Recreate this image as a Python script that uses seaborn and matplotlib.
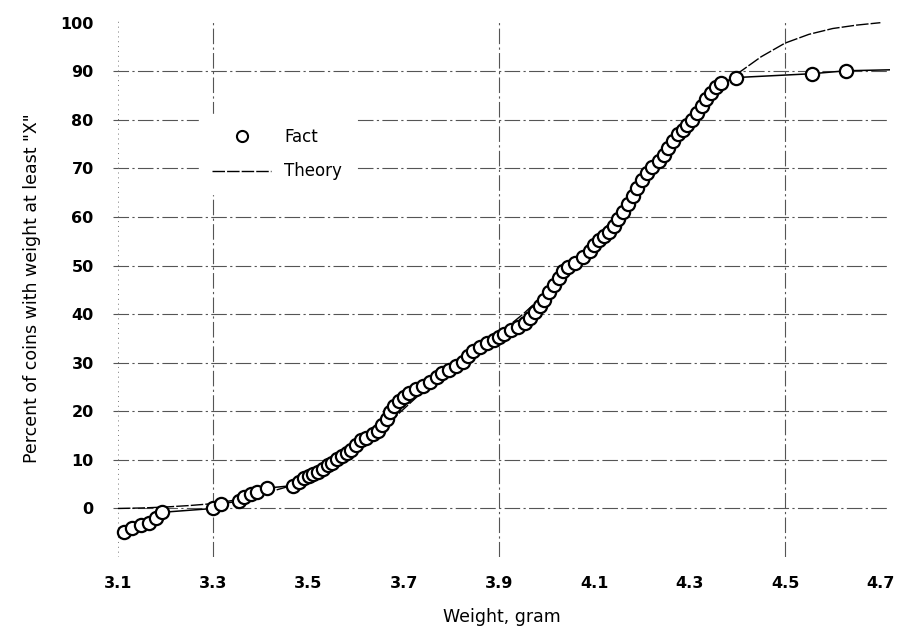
import matplotlib
matplotlib.use("Agg")
import matplotlib.pyplot as plt
from matplotlib.lines import Line2D
import seaborn as sns
import pandas as pd

# measured data (fact), last point only carries the line to the right edge
fact_x = [3.113, 3.129, 3.148, 3.165, 3.179, 3.192, 3.300, 3.317, 3.355, 3.365,
          3.380, 3.392, 3.413, 3.467, 3.480, 3.490, 3.500, 3.510, 3.520, 3.530,
          3.540, 3.550, 3.560, 3.570, 3.580, 3.590, 3.600, 3.610, 3.620, 3.635,
          3.645, 3.655, 3.665, 3.672, 3.680, 3.690, 3.700, 3.710, 3.725, 3.740,
          3.755, 3.770, 3.780, 3.795, 3.810, 3.825, 3.835, 3.845, 3.860, 3.875,
          3.890, 3.900, 3.910, 3.925, 3.940, 3.955, 3.965, 3.975, 3.985, 3.995,
          4.005, 4.015, 4.025, 4.035, 4.045, 4.060, 4.075, 4.090, 4.100, 4.110,
          4.120, 4.130, 4.140, 4.150, 4.160, 4.170, 4.180, 4.190, 4.200, 4.210,
          4.220, 4.235, 4.245, 4.255, 4.265, 4.275, 4.285, 4.295, 4.305, 4.315,
          4.325, 4.335, 4.345, 4.355, 4.365, 4.396, 4.557, 4.628, 4.720]
fact_y = [-4.9, -4.1, -3.5, -2.9, -1.9, -0.8, 0.0, 1.0, 1.5, 2.3,
          3.0, 3.4, 4.2, 4.7, 5.5, 6.2, 6.6, 7.0, 7.6, 8.2,
          8.9, 9.4, 10.1, 10.7, 11.4, 12.0, 13.1, 14.0, 14.6, 15.3,
          16.0, 17.2, 18.5, 19.8, 21.0, 22.1, 23.0, 23.8, 24.6, 25.2,
          26.0, 27.0, 27.8, 28.6, 29.3, 30.2, 31.4, 32.5, 33.3, 34.0,
          34.6, 35.2, 36.0, 36.8, 37.4, 38.2, 39.3, 40.4, 41.6, 43.0,
          44.5, 46.0, 47.5, 48.8, 49.8, 50.6, 51.7, 53.0, 54.3, 55.2,
          56.0, 57.0, 58.2, 59.5, 61.0, 62.6, 64.4, 66.0, 67.6, 69.0,
          70.3, 71.6, 72.8, 74.2, 75.6, 77.0, 78.0, 78.9, 80.0, 81.4,
          82.9, 84.3, 85.6, 86.8, 87.6, 88.7, 89.5, 90.1, 90.3]

# theoretical curve
theory_x = [3.10, 3.15, 3.20, 3.25, 3.30, 3.35, 3.40, 3.45, 3.50, 3.55, 3.60,
            3.65, 3.70, 3.75, 3.80, 3.85, 3.90, 3.95, 4.00, 4.05, 4.10, 4.15,
            4.20, 4.25, 4.30, 4.35, 4.40, 4.45, 4.50, 4.55, 4.60, 4.65, 4.70]
theory_y = [0.0, 0.1, 0.3, 0.6, 1.0, 1.8, 2.9, 4.3, 6.0, 8.6, 12.0,
            16.0, 20.5, 25.0, 29.0, 32.5, 36.0, 40.0, 44.5, 49.5, 55.0, 61.0,
            67.5, 74.0, 80.0, 85.5, 89.5, 93.0, 95.8, 97.6, 98.8, 99.5, 100.0]

x_ticks = [3.1, 3.3, 3.5, 3.7, 3.9, 4.1, 4.3, 4.5, 4.7]
y_ticks = [0, 10, 20, 30, 40, 50, 60, 70, 80, 90, 100]
x_grid = [3.3, 3.9, 4.5]
y_grid = [0, 10, 20, 30, 40, 50, 60, 70, 80, 90]

fact = pd.DataFrame({"x": fact_x, "y": fact_y})
theory = pd.DataFrame({"x": theory_x, "y": theory_y})

sns.set_style("white")
plt.rcParams["font.family"] = ["DejaVu Sans"]
plt.rcParams["text.color"] = "black"
plt.rcParams["axes.labelcolor"] = "black"
plt.rcParams["xtick.color"] = "black"
plt.rcParams["ytick.color"] = "black"

fig = plt.figure(figsize=(8.98, 6.33), dpi=100)
ax = fig.add_axes([0.126, 0.12, 0.865, 0.848])

grid_kw = dict(color="#555555", lw=0.8, ls=(0, (14, 3, 2, 3)), zorder=0)
for gx in x_grid:
    ax.axvline(gx, **grid_kw)
for gy in y_grid:
    ax.axhline(gy, **grid_kw)
ax.axvline(3.1, color="#777777", lw=0.7, ls=(0, (1, 4)), zorder=0)

sns.lineplot(data=theory, x="x", y="y", ax=ax, color="black", lw=1.0,
             dashes=False, estimator=None, sort=False, zorder=2)
ax.lines[-1].set_dashes([9, 1.5])
sns.lineplot(data=fact, x="x", y="y", ax=ax, color="black", lw=1.1,
             estimator=None, sort=False, marker="o", markersize=9.5,
             markerfacecolor="white", markeredgecolor="black",
             markeredgewidth=1.6, markevery=list(range(len(fact_x) - 1)),
             zorder=3)

ax.set_xlim(3.09, 4.72)
ax.set_ylim(-10, 100.5)
ax.set_xticks(x_ticks)
ax.set_xticklabels([f"{v:.1f}" for v in x_ticks])
ax.set_yticks(y_ticks)
ax.tick_params(length=0, labelsize=11.5, pad=14)
for lab in ax.get_xticklabels() + ax.get_yticklabels():
    lab.set_fontweight("bold")
for s in ax.spines.values():
    s.set_visible(False)
ax.set_xlabel("Weight, gram", fontsize=12.5, labelpad=12)
ax.set_ylabel('Percent of coins with weight at least "X"', fontsize=12.5,
              labelpad=14)

handles = [
    Line2D([], [], ls="none", marker="o", markersize=8, markerfacecolor="white",
           markeredgecolor="black", markeredgewidth=1.5),
    Line2D([], [], color="black", lw=1.0, dashes=[9, 1.5]),
]
leg = ax.legend(handles, ["Fact", "Theory"], loc="upper left",
                bbox_to_anchor=(0.10, 0.84), frameon=True, fontsize=12,
                handlelength=3.5, labelspacing=1.0, borderpad=0.8)
leg.get_frame().set_facecolor("white")
leg.get_frame().set_edgecolor("white")
leg.get_frame().set_alpha(1.0)

fig.savefig("out.png", dpi=100)
